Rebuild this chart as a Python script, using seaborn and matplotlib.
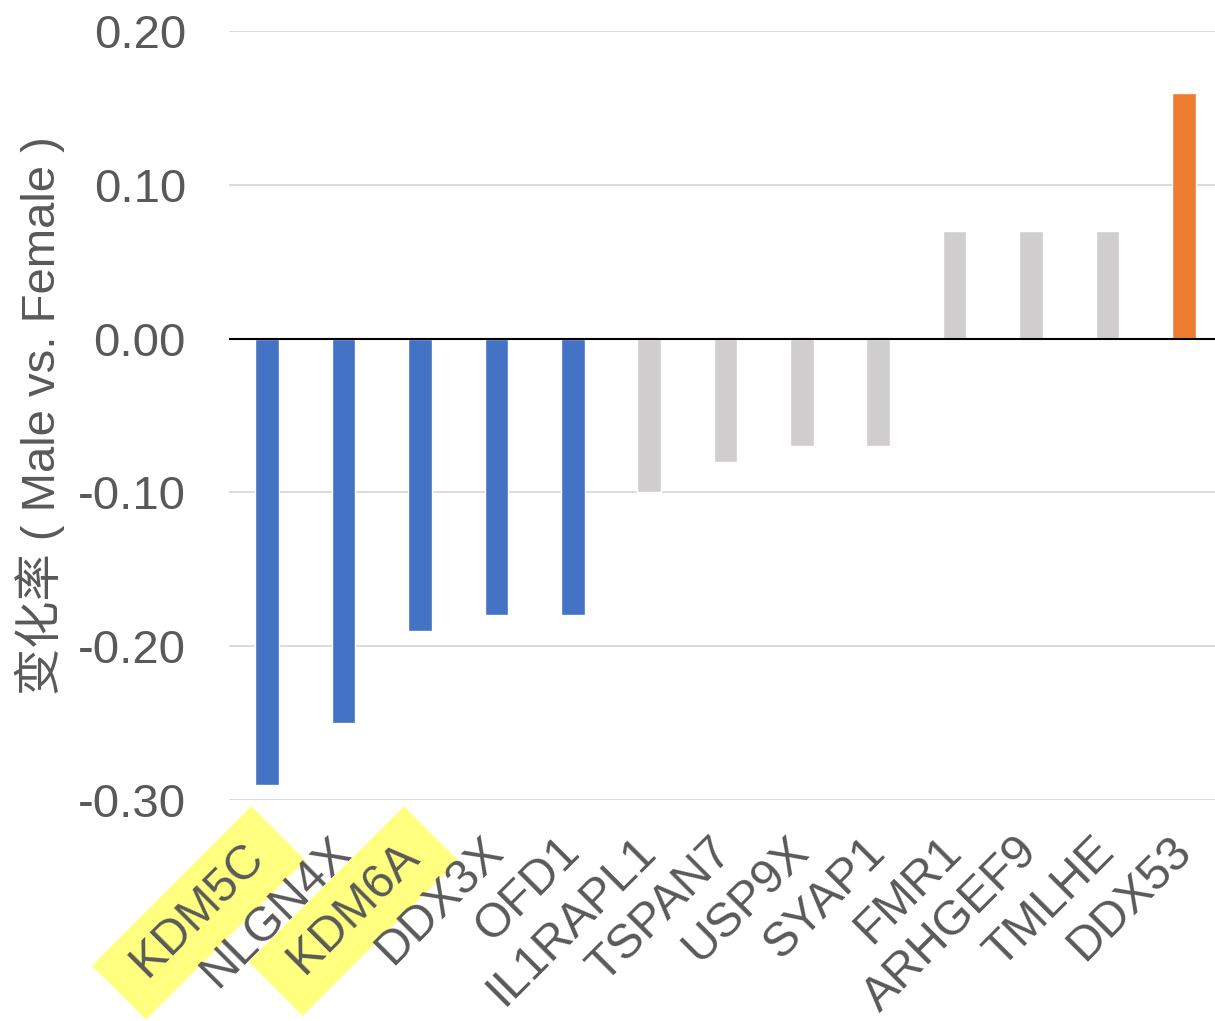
import matplotlib
matplotlib.use("Agg")
import matplotlib.pyplot as plt
import seaborn as sns
import pandas as pd

genes = ["KDM5C", "NLGN4X", "KDM6A", "DDX3X", "OFD1", "IL1RAPL1", "TSPAN7",
         "USP9X", "SYAP1", "FMR1", "ARHGEF9", "TMLHE", "DDX53"]
values = [-0.29, -0.25, -0.19, -0.18, -0.18, -0.10, -0.08,
          -0.07, -0.07, 0.07, 0.07, 0.07, 0.16]
groups = ["down", "down", "down", "down", "down", "ns", "ns",
          "ns", "ns", "ns", "ns", "ns", "up"]
highlighted = ["KDM5C", "KDM6A"]
yticks = [-0.30, -0.20, -0.10, 0.00, 0.10, 0.20]
ylabel = "变化率 ( Male vs. Female )"

group_colors = {"down": "#4472C4", "ns": "#D0CECE", "up": "#ED7D31"}

sns.set_theme(style="white")
plt.rcParams['font.family'] = ['Liberation Sans', 'Noto Sans CJK SC', 'DejaVu Sans']

df = pd.DataFrame({"gene": genes, "value": values, "group": groups})
palette = [group_colors[g] for g in groups]

fig = plt.figure(figsize=(12.15, 10.21), dpi=100)
W, H = 1215, 1021
left, right, top, bottom = 229, 1222, 31, 800
ax = fig.add_axes([left / W, (H - bottom) / H, (right - left) / W, (bottom - top) / H])

sns.barplot(data=df, x="gene", y="value", hue="gene", palette=palette,
            width=0.31, legend=False, ax=ax, saturation=1)

ax.set_xlim(-0.5, len(genes) - 0.5)
ax.set_ylim(-0.30, 0.20)
ax.set_yticks(yticks)
ax.set_yticklabels([f"{t:.2f}" for t in yticks])
for t in yticks:
    if abs(t) > 1e-9:
        ax.axhline(t, color="#D9D9D9", lw=1.3, zorder=0)
ax.axhline(0, color="black", lw=1.5, zorder=3)
for s in ax.spines.values():
    s.set_visible(False)

txtcol = "#595959"
ax.tick_params(axis="y", length=0, pad=31, labelsize=34, labelcolor=txtcol)
ax.tick_params(axis="x", length=0, pad=32, labelsize=34.5, labelcolor=txtcol)
ax.set_xlabel("")
ax.set_xticks(range(len(genes)))
ax.set_xticklabels([f" {g} " if g in highlighted else g for g in genes])
for lab in ax.get_xticklabels():
    lab.set_rotation(45)
    lab.set_ha("right")
    lab.set_va("center")
    lab.set_rotation_mode("anchor")
    if lab.get_text().strip() in highlighted:
        lab.set_bbox(dict(boxstyle="square,pad=0.33", facecolor="#FFFF80", edgecolor="none"))

ax.set_ylabel(ylabel, fontsize=34, color=txtcol)
ax.yaxis.set_label_coords(-0.165, 0.5)

fig.savefig("out.png", dpi=100)
